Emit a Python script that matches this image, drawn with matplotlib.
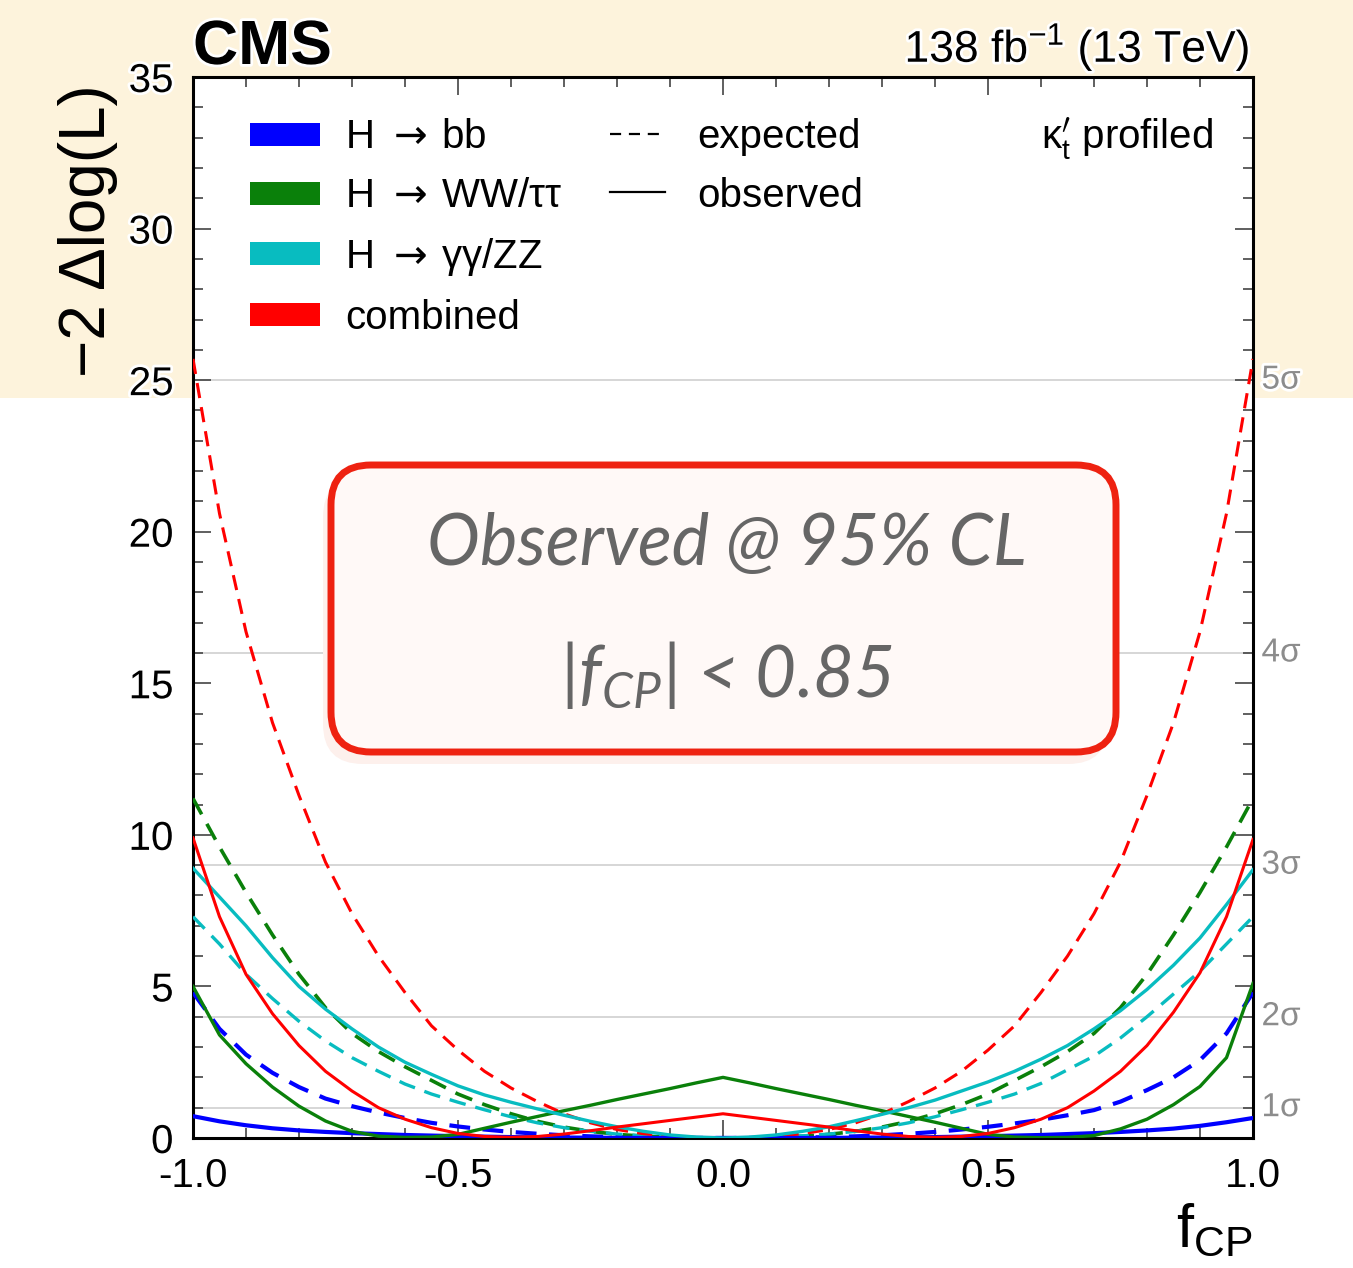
import numpy as np
import matplotlib
matplotlib.use('Agg')
import matplotlib.pyplot as plt
from matplotlib.patches import Patch, Rectangle, FancyBboxPatch
from matplotlib.lines import Line2D
import matplotlib.patheffects as pe
import matplotlib.transforms as mtransforms

# scan points in f_CP (step 0.05)
fcp = np.linspace(-1.0, 1.0, 41)

# -2 delta log(L)
obs_bb = [0.72, 0.55, 0.42, 0.32, 0.25, 0.2, 0.16, 0.13, 0.1, 0.08, 0.06,
          0.045, 0.03, 0.02, 0.015, 0.01, 0.005, 0.0, 0.0, 0.0, 0.0,
          0.0, 0.0, 0.0, 0.005, 0.01, 0.015, 0.02, 0.03, 0.045, 0.06,
          0.08, 0.1, 0.13, 0.16, 0.2, 0.25, 0.31, 0.4, 0.52, 0.66]
exp_bb = [4.8, 3.6, 2.75, 2.15, 1.68, 1.3, 1.05, 0.84, 0.66, 0.5, 0.38,
          0.28, 0.2, 0.14, 0.09, 0.055, 0.03, 0.015, 0.006, 0.002, 0.0,
          0.002, 0.006, 0.015, 0.03, 0.055, 0.09, 0.14, 0.2, 0.28, 0.37,
          0.48, 0.6, 0.75, 0.92, 1.2, 1.58, 2.0, 2.57, 3.45, 4.8]
obs_ww = [5.0, 3.4, 2.45, 1.68, 1.05, 0.56, 0.22, 0.06, 0.02, 0.03, 0.12,
          0.32, 0.52, 0.71, 0.9, 1.08, 1.27, 1.45, 1.63, 1.82, 2.0,
          1.82, 1.63, 1.45, 1.27, 1.08, 0.9, 0.71, 0.52, 0.32, 0.12,
          0.03, 0.01, 0.02, 0.08, 0.3, 0.62, 1.1, 1.7, 2.65, 5.1]
exp_ww = [11.2, 9.6, 8.1, 6.7, 5.4, 4.3, 3.45, 2.85, 2.35, 1.9, 1.45,
          1.1, 0.8, 0.55, 0.36, 0.22, 0.12, 0.06, 0.025, 0.005, 0.0,
          0.005, 0.025, 0.06, 0.12, 0.22, 0.36, 0.55, 0.8, 1.1, 1.45,
          1.9, 2.35, 2.85, 3.45, 4.3, 5.4, 6.7, 8.1, 9.6, 11.2]
obs_yy = [8.9, 7.95, 7.0, 5.95, 5.0, 4.25, 3.6, 3.0, 2.5, 2.1, 1.72,
          1.42, 1.18, 0.96, 0.75, 0.55, 0.37, 0.22, 0.1, 0.03, 0.0,
          0.03, 0.1, 0.22, 0.37, 0.57, 0.78, 1.0, 1.25, 1.55, 1.85,
          2.2, 2.6, 3.05, 3.6, 4.2, 4.9, 5.7, 6.6, 7.7, 8.85]
exp_yy = [7.3, 6.4, 5.4, 4.6, 3.85, 3.2, 2.65, 2.2, 1.78, 1.45, 1.18,
          0.93, 0.7, 0.5, 0.34, 0.22, 0.13, 0.07, 0.03, 0.008, 0.0,
          0.008, 0.03, 0.07, 0.13, 0.22, 0.34, 0.5, 0.7, 0.93, 1.18,
          1.45, 1.8, 2.25, 2.7, 3.3, 4.0, 4.75, 5.5, 6.4, 7.3]
obs_comb = [9.9, 7.3, 5.4, 4.1, 3.05, 2.2, 1.55, 1.0, 0.62, 0.34, 0.15,
            0.05, 0.02, 0.05, 0.13, 0.24, 0.36, 0.47, 0.58, 0.69, 0.8,
            0.69, 0.58, 0.47, 0.36, 0.24, 0.13, 0.05, 0.02, 0.05, 0.15,
            0.34, 0.62, 1.0, 1.55, 2.2, 3.05, 4.15, 5.45, 7.3, 9.85]
exp_comb = [25.7, 20.6, 16.7, 13.7, 11.3, 9.1, 7.4, 6.0, 4.8, 3.7, 2.9,
            2.2, 1.65, 1.2, 0.8, 0.5, 0.28, 0.14, 0.06, 0.015, 0.0,
            0.015, 0.06, 0.14, 0.28, 0.5, 0.8, 1.2, 1.65, 2.2, 2.9,
            3.7, 4.8, 6.0, 7.4, 9.1, 11.3, 13.7, 16.7, 20.6, 25.7]

channel_labels = [r'H $\rightarrow\,$bb', r'H $\rightarrow\,$WW/ττ',
                  r'H $\rightarrow\,$γγ/ZZ', 'combined']
sigma_levels = [1, 4, 9, 16, 25]
sigma_labels = ['1σ', '2σ', '3σ', '4σ', '5σ']
xticks = [-1.0, -0.5, 0.0, 0.5, 1.0]
xticklabels = ['-1.0', '-0.5', '0.0', '0.5', '1.0']
yticks = [0, 5, 10, 15, 20, 25, 30, 35]

BLUE, GREEN, CYAN, RED = '#0000ff', '#0a800a', '#08bcc0', '#ff0000'

plt.rcParams['font.family'] = ['Liberation Sans', 'DejaVu Sans']
plt.rcParams['axes.unicode_minus'] = False

W, H = 1353, 1268
fig = plt.figure(figsize=(W / 100, H / 100), dpi=100)
fig.patch.set_facecolor('white')
# beige band behind the top part of the picture
fig.add_artist(Rectangle((0, 1 - 398 / H), 1, 398 / H, transform=fig.transFigure,
                         facecolor='#fdf3dc', edgecolor='none', zorder=-5))

ax = fig.add_axes([193 / W, 1 - 1138 / H, 1060 / W, 1061 / H])
ax.set_facecolor('white')
ax.set_xlim(-1, 1)
ax.set_ylim(0, 35)

halo = [pe.withStroke(linewidth=4, foreground='white')]

# sigma lines
trans = mtransforms.blended_transform_factory(ax.transAxes, ax.transData)
for lev, lab in zip(sigma_levels, sigma_labels):
    ax.axhline(lev, color='#cfcfcf', lw=1.2, zorder=1)
    ax.text(1.008, lev, lab, transform=trans, ha='left', va='center',
            fontsize=24, color='#8c8c8c', path_effects=halo, clip_on=False)

dash = (0, (5, 3))
curves = [
    (exp_bb, BLUE, dash, 3.0),
    (exp_ww, GREEN, dash, 2.6),
    (exp_yy, CYAN, dash, 2.4),
    (exp_comb, RED, dash, 2.2),
    (obs_bb, BLUE, '-', 3.0),
    (obs_ww, GREEN, '-', 2.4),
    (obs_yy, CYAN, '-', 2.4),
    (obs_comb, RED, '-', 2.2),
]
for vals, col, ls, lw in curves:
    ax.plot(fcp, vals, color=col, ls=ls, lw=lw, zorder=3)

# axes styling
for sp in ax.spines.values():
    sp.set_linewidth(2.2)
ax.set_xticks(xticks, labels=xticklabels)
ax.set_yticks(yticks)
ax.xaxis.set_minor_locator(plt.MultipleLocator(0.1))
ax.yaxis.set_minor_locator(plt.MultipleLocator(1))
ax.tick_params(which='both', direction='in', top=True, right=True,
               color='#444444', width=1.2, labelsize=29, pad=14)
ax.tick_params(which='major', length=13)
ax.tick_params(which='minor', length=7)
for lbl in ax.get_yticklabels():
    lbl.set_path_effects(halo)

ax.set_ylabel('−2 Δlog(L)', fontsize=46, loc='top')
ax.yaxis.set_label_coords(-0.071, 0.993)
ax.set_xlabel(r'f$_{\mathregular{CP}}$', fontsize=44, loc='right')
ax.xaxis.set_label_coords(1.0, -0.061)

# legends
patches = [Patch(facecolor=c, edgecolor='none') for c in (BLUE, GREEN, CYAN, RED)]
leg1 = ax.legend(patches, channel_labels, loc='upper left',
                 bbox_to_anchor=((250 - 193) / 1060, 0.961), frameon=False,
                 fontsize=29, borderpad=0, borderaxespad=0, handlelength=1.75,
                 handleheight=0.5, handletextpad=0.62, labelspacing=0.52)
ax.add_artist(leg1)
styles = [Line2D([0], [0], color='black', ls=(0, (5, 3.5)), lw=1.6),
          Line2D([0], [0], color='black', ls='-', lw=1.6)]
ax.legend(styles, ['expected', 'observed'], loc='upper left',
          bbox_to_anchor=((610 - 193) / 1060, 0.961), frameon=False,
          fontsize=29, borderpad=0, borderaxespad=0, handlelength=1.375,
          handletextpad=0.8, labelspacing=0.5)

ax.text((1213 - 193) / 1060, (1138 - 149) / 1061,
        r'$\mathregular{κ}^{\prime}_{\mathregular{t}}$ profiled',
        transform=ax.transAxes, ha='right', va='baseline', fontsize=29)

# header
fig.text(193 / W, 1 - 64 / H, 'CMS', fontsize=45, fontweight='bold',
         ha='left', va='baseline', path_effects=halo)
fig.text(1250 / W, 1 - 62 / H, r'138 fb$^{\mathregular{-1}}$ (13 TeV)',
         fontsize=32, ha='right', va='baseline', path_effects=halo)

# highlighted result box
shadow = FancyBboxPatch((323 / W, 1 - 764 / H), (1116 - 331) / W, (752 - 465) / H,
                        boxstyle='round,pad=0,rounding_size=%f' % (40 / W),
                        mutation_aspect=W / H, transform=fig.transFigure,
                        facecolor='#fdf0ec', edgecolor='none', zorder=4)
fig.add_artist(shadow)
box = FancyBboxPatch((331 / W, 1 - 752 / H), (1116 - 331) / W, (752 - 465) / H,
                     boxstyle='round,pad=0,rounding_size=%f' % (40 / W),
                     mutation_aspect=W / H, transform=fig.transFigure,
                     facecolor='#fff9f7', edgecolor='#ee2211', lw=5, zorder=5)
fig.add_artist(box)
box_font = dict(family=['Lato', 'DejaVu Sans'], style='italic', weight='normal',
                color='#666666', fontsize=51, ha='center', va='center', zorder=6)
fig.text(727 / W, 1 - 545 / H, 'Observed @ 95% CL', **box_font)
fig.text(727 / W, 1 - 675 / H, r'$\mathregular{|f_{CP}|}$ < 0.85', **box_font)

fig.savefig('out.png', dpi=100)
